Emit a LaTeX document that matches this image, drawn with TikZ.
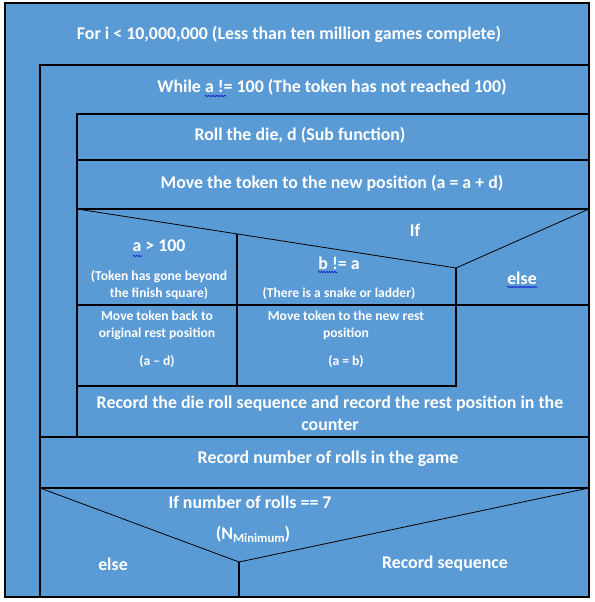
\documentclass[tikz,border=0pt]{standalone}
\usepackage{fontspec}
\setmainfont{Carlito}
\usetikzlibrary{decorations.pathmorphing}
\definecolor{nsblue}{HTML}{5B9BD5}
\tikzset{
  txt/.style={text=white,inner sep=0pt,align=center,font=\bfseries\fontsize{13.4}{16.5}\selectfont},
  small/.style={txt,font=\bfseries\fontsize{10.2}{12.75}\selectfont},
  box/.style={draw=black,line width=1.1pt},
  diag/.style={draw=black,line width=0.6pt},
  squig/.style={draw=blue!80!black,line width=0.4pt,decorate,decoration={snake,amplitude=0.45pt,segment length=2pt}}
}
\begin{document}
\begin{tikzpicture}[x=0.75pt,y=-0.75pt]
\useasboundingbox (0,0) rectangle (594,602);
% outer loop
\draw[box,fill=nsblue] (5,3) rectangle (589,597);
\draw[box] (40,597) -- (40,65) -- (589,65);
% inner loop
\draw[box] (77,437) -- (77,114) -- (589,114);
\draw[box] (77,160) -- (589,160);
\draw[box] (77,209) -- (589,209);
% if block
\draw[diag] (77,209) -- (456,268) -- (589,209);
\draw[box] (456,268) -- (456,386) -- (77,386);
\draw[box] (77,305) -- (589,305);
\draw[box] (237,234) -- (237,386);
\draw[box] (40,437) -- (589,437);
\draw[box] (40,488) -- (589,488);
% last if
\draw[diag] (40,488) -- (239,562) -- (589,488);
\draw[box] (239,562) -- (239,597);
% texts
\node[txt] (forloop) at (289,34) {For i < 10,000,000 (Less than ten million games complete)};
\node[txt] (whileloop) at (332,87) {While a != 100 (The token has not reached 100)};
\node[txt] (roll) at (300,135) {Roll the die, d (Sub function)};
\node[txt] (move) at (332,183) {Move the token to the new position (a = a + d)};
\node[txt] (ifa) at (415,230) {If};
\node[txt] (over) at (159,246) {a > 100};
\node[small] (overnote) at (159,285.5) {(Token has gone beyond\\the finish square)};
\node[txt] (snake) at (339,263) {b != a};
\node[small] (snakenote) at (339,293) {(There is a snake or ladder)};
\node[txt] (elsea) at (522,278) {else};
\node[small] (back) at (157,325.5) {Move token back to\\original rest position};
\node[small] (backeq) at (157,361) {(a – d)};
\node[small] (rest) at (346,325.5) {Move token to the new rest\\position};
\node[small] (resteq) at (346,361) {(a = b)};
\node[txt] (record) at (330,413) {Record the die roll sequence and record the rest position in the\\counter};
\node[txt] (count) at (328,459) {Record number of rolls in the game};
\node[txt] (ifb) at (250,502) {If number of rolls == 7};
\node[txt] (nmin) at (253,534) {(N\raisebox{-0.35ex}{\fontsize{9.5}{10}\selectfont Minimum})};
\node[txt] (elseb) at (113,564) {else};
\node[txt] (seq) at (445,564) {Record sequence};
% spell check marks
\draw[squig] (205,96) -- (226,96);
\draw[squig] (133,256) -- (142,256);
\draw[squig] (318,272) -- (337,272);
\draw[squig] (507,287) -- (537,287);
\end{tikzpicture}
\end{document}
